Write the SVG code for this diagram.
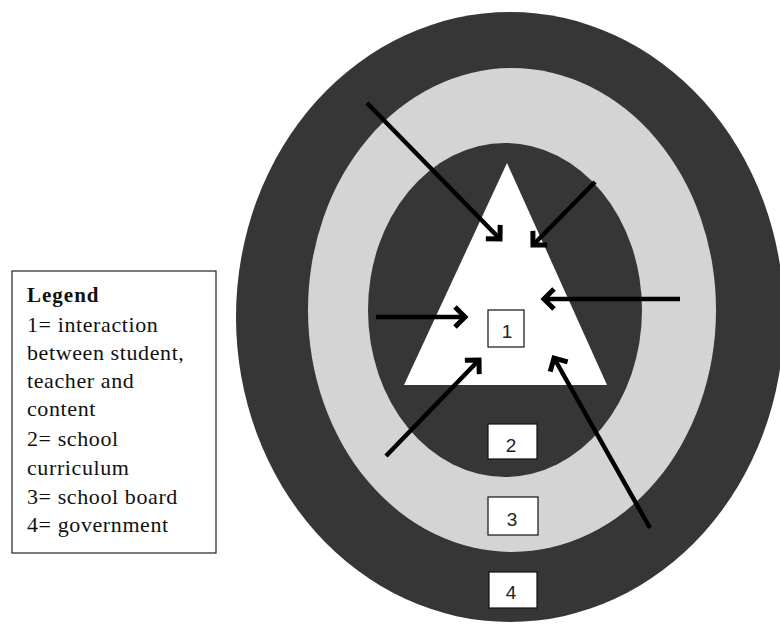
<svg xmlns="http://www.w3.org/2000/svg" width="780" height="624" viewBox="0 0 780 624">
<style>
.dark{fill:#363636}
.light{fill:#d4d4d4}
.box{fill:#ffffff;stroke:#111;stroke-width:1.2}
.num{font-family:"Liberation Sans",Arial,sans-serif;font-size:19px;fill:#222;text-anchor:middle}
.lg{font-family:"Liberation Serif","Times New Roman","DejaVu Serif",serif;font-size:22px;fill:#111;letter-spacing:0.6px}
.lgb{font-family:"Liberation Serif","Times New Roman","DejaVu Serif",serif;font-size:21px;font-weight:bold;fill:#111;letter-spacing:1px}
.arr{stroke:#000;stroke-width:4.5;fill:none;marker-end:url(#head)}
</style>
<defs>
<marker id="head" markerUnits="userSpaceOnUse" markerWidth="30" markerHeight="30" viewBox="-15 -15 30 30" refX="0" refY="0" orient="auto">
<path d="M-10,-10 L0,0 L-10,10" fill="none" stroke="#000" stroke-width="5" stroke-linejoin="miter"/>
</marker>
</defs>
<rect width="780" height="624" fill="#ffffff"/>
<g id="legend">
<rect x="12" y="271" width="204" height="282" fill="#fff" stroke="#222" stroke-width="1.2"/>
<text class="lgb" x="27" y="302">Legend</text>
<text class="lg" x="27" y="332">1= interaction</text>
<text class="lg" x="27" y="360">between student,</text>
<text class="lg" x="27" y="388">teacher and</text>
<text class="lg" x="27" y="416">content</text>
<text class="lg" x="27" y="446">2= school</text>
<text class="lg" x="27" y="475">curriculum</text>
<text class="lg" x="27" y="504">3= school board</text>
<text class="lg" x="27" y="532">4= government</text>
</g>
<g id="level4-government">
<ellipse class="dark" cx="510" cy="317" rx="274" ry="305"/>
</g>
<g id="level3-school-board">
<ellipse class="light" cx="512" cy="310" rx="204" ry="242"/>
</g>
<g id="level2-curriculum">
<ellipse class="dark" cx="505" cy="310" rx="137" ry="167"/>
</g>
<g id="level1-interaction">
<polygon points="507,163 607,385 404,385" fill="#ffffff"/>
</g>
<g id="connectors">
<line class="arr" x1="367" y1="103" x2="500" y2="239"/>
<line class="arr" x1="595" y1="182" x2="533" y2="245"/>
<line class="arr" x1="680" y1="299" x2="544" y2="299"/>
<line class="arr" x1="376" y1="317" x2="465" y2="317"/>
<line class="arr" x1="386" y1="456" x2="479" y2="360"/>
<line class="arr" x1="650" y1="528" x2="554" y2="358"/>
</g>
<g id="label1">
<rect class="box" x="488" y="310" width="36" height="37"/>
<text class="num" x="507" y="338">1</text>
</g>
<g id="label2">
<rect class="box" x="488" y="424" width="49" height="35"/>
<text class="num" x="511" y="452">2</text>
</g>
<g id="label3">
<rect class="box" x="488" y="497" width="50" height="38"/>
<text class="num" x="512" y="526">3</text>
</g>
<g id="label4">
<rect class="box" x="489" y="572" width="48" height="36"/>
<text class="num" x="511" y="599">4</text>
</g>
</svg>
